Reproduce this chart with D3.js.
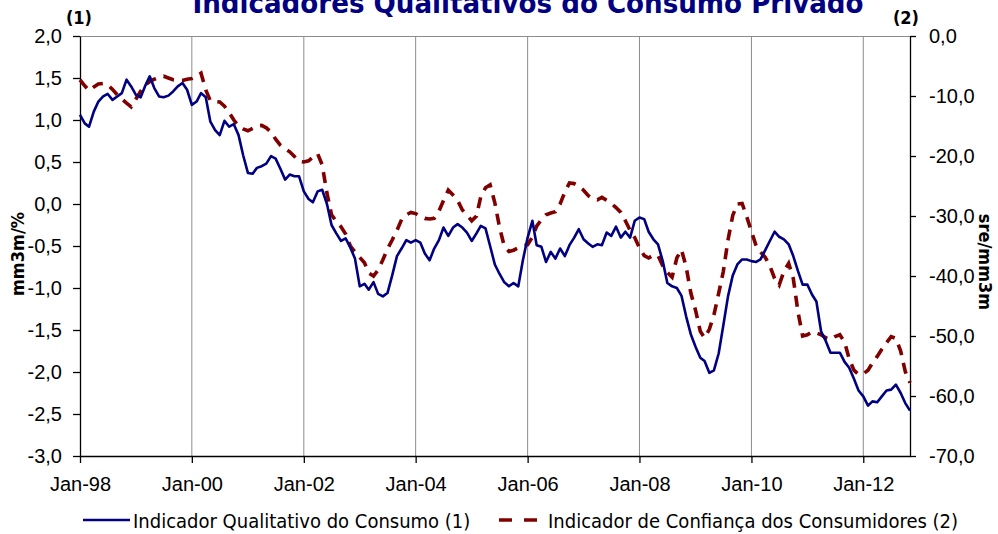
<!DOCTYPE html>
<html>
<head>
<meta charset="utf-8">
<script src="https://cdn.jsdelivr.net/npm/d3@7"></script>
<style>
  body { margin: 0; background: #fff; }
  svg { display: block; font-family: "DejaVu Sans Condensed", "DejaVu Sans", sans-serif; }
</style>
</head>
<body>
<div id="chart"></div>
<script>
// monthly data, Jan-98 .. Nov-12
const startMonth = new Date(1998, 0, 1);

// Indicador Qualitativo do Consumo (1) - left axis, mm3m/%
const iqcValues = [
  1.06, 0.96, 0.92, 1.10, 1.22, 1.28, 1.31, 1.24, 1.28, 1.32, 1.48, 1.40,
  1.30, 1.27, 1.40, 1.52, 1.38, 1.28, 1.27, 1.29, 1.34, 1.40, 1.44, 1.36,
  1.18, 1.22, 1.32, 1.27, 0.98, 0.88, 0.82, 0.99, 0.92, 0.95, 0.82, 0.58,
  0.37, 0.36, 0.43, 0.45, 0.48, 0.57, 0.54, 0.42, 0.29, 0.35, 0.33, 0.33,
  0.15, 0.06, 0.02, 0.15, 0.17, 0.00, -0.25, -0.35, -0.44, -0.41, -0.52, -0.65,
  -0.98, -0.95, -1.02, -0.93, -1.07, -1.10, -1.06, -0.85, -0.62, -0.53, -0.43, -0.46,
  -0.43, -0.46, -0.59, -0.67, -0.53, -0.43, -0.28, -0.38, -0.28, -0.24, -0.28, -0.34,
  -0.44, -0.35, -0.26, -0.29, -0.50, -0.72, -0.83, -0.93, -0.98, -0.94, -0.98, -0.67,
  -0.40, -0.20, -0.49, -0.51, -0.69, -0.57, -0.65, -0.53, -0.62, -0.49, -0.40, -0.30,
  -0.42, -0.47, -0.51, -0.48, -0.49, -0.34, -0.38, -0.27, -0.40, -0.33, -0.40, -0.20,
  -0.16, -0.18, -0.33, -0.42, -0.48, -0.68, -0.94, -0.98, -1.00, -1.09, -1.34, -1.55,
  -1.70, -1.83, -1.87, -2.01, -1.98, -1.78, -1.45, -1.10, -0.85, -0.72, -0.66, -0.66,
  -0.68, -0.69, -0.66, -0.55, -0.44, -0.33, -0.39, -0.42, -0.48, -0.62, -0.80, -0.96,
  -0.96, -1.08, -1.16, -1.52, -1.63, -1.77, -1.77, -1.77, -1.88, -1.95, -2.08, -2.22,
  -2.29, -2.40, -2.35, -2.36, -2.29, -2.22, -2.21, -2.15, -2.25, -2.37, -2.46
];

// Indicador de Confiança dos Consumidores (2) - right axis, sre/mm3m
const iccValues = [
  -7.3, -8.3, -9.1, -8.5, -8.0, -7.9, -8.1, -8.9, -9.8, -10.5, -11.2, -11.8,
  -10.5, -9.2, -8.2, -7.6, -7.2, -6.9, -6.7, -7.0, -7.3, -7.4, -7.4, -7.2,
  -7.1, -6.7, -6.2, -9.0, -10.8, -10.9, -11.0, -11.7, -12.8, -14.0, -15.0, -15.5,
  -15.8, -15.4, -15.0, -14.9, -15.3, -16.0, -17.2, -18.2, -18.8, -19.3, -20.1, -20.9,
  -21.0, -20.8, -20.2, -19.6, -21.5, -26.2, -29.8, -30.9, -31.8, -33.0, -35.0, -36.0,
  -36.9, -37.8, -39.5, -40.0, -39.0, -37.3, -35.5, -34.0, -32.4, -30.6, -29.8, -29.4,
  -29.6, -30.1, -30.4, -30.5, -30.4, -29.2, -27.4, -25.7, -26.5, -27.4, -29.0, -29.8,
  -30.8, -30.0, -26.8, -25.3, -24.8, -27.8, -31.8, -35.0, -35.9, -35.7, -35.3, -35.0,
  -34.8, -33.5, -31.7, -30.6, -29.8, -29.5, -29.3, -28.0, -26.0, -24.5, -24.6, -25.0,
  -25.7, -26.6, -27.1, -27.3, -26.9, -27.4, -27.9, -28.6, -29.4, -30.8, -32.4, -33.6,
  -35.3, -36.6, -37.0, -36.5, -36.6, -38.3, -39.4, -40.2, -37.0, -35.6, -38.5, -42.8,
  -45.7, -49.2, -50.3, -48.9, -46.5, -42.9, -39.3, -34.0, -29.9, -28.0, -27.9, -30.1,
  -32.6, -35.0, -36.0, -36.9, -38.3, -40.4, -41.5, -39.2, -37.9, -40.4, -46.0, -50.0,
  -49.8, -49.3, -49.5, -49.8, -50.3, -50.6, -50.1, -49.8, -51.0, -53.8, -55.7, -56.4,
  -56.3, -55.7, -54.5, -53.4, -52.2, -51.1, -50.1, -50.4, -52.5, -55.9, -57.8
];

const xTickLabels = ["Jan-98", "Jan-00", "Jan-02", "Jan-04", "Jan-06", "Jan-08", "Jan-10", "Jan-12"];
const leftTicks = [2.0, 1.5, 1.0, 0.5, 0.0, -0.5, -1.0, -1.5, -2.0, -2.5, -3.0];
const rightTicks = [0, -10, -20, -30, -40, -50, -60, -70];
const seriesNames = ["Indicador Qualitativo do Consumo (1)", "Indicador de Confiança dos Consumidores (2)"];

const width = 998, height = 534;
const margin = { top: 36, right: 88, bottom: 78, left: 80 };

const svg = d3.select("#chart").append("svg")
  .attr("width", width)
  .attr("height", height);

const months = iqcValues.map((v, i) => d3.timeMonth.offset(startMonth, i));
const parseLabel = d3.timeParse("%b-%y");
const fmtLabel = d3.timeFormat("%b-%y");

const x = d3.scaleTime()
  .domain([months[0], months[months.length - 1]])
  .range([margin.left, width - margin.right]);
const yL = d3.scaleLinear().domain([-3, 2]).range([height - margin.bottom, margin.top]);
const yR = d3.scaleLinear().domain([-70, 0]).range([height - margin.bottom, margin.top]);

const pt = d3.formatLocale({ decimal: ",", thousands: ".", grouping: [3], currency: ["", ""], minus: "-" });
const fmt1 = pt.format(".1f");

const x0 = margin.left, x1 = width - margin.right;
const y0 = margin.top, y1 = height - margin.bottom;

// vertical gridlines
svg.append("g")
  .selectAll("line")
  .data(xTickLabels.slice(1).map(parseLabel))
  .join("line")
  .attr("x1", d => x(d)).attr("x2", d => x(d))
  .attr("y1", y0).attr("y2", y1)
  .attr("stroke", "#8c8c8c").attr("stroke-width", 1);

// top border
svg.append("line")
  .attr("x1", x0).attr("x2", x1).attr("y1", y0 + 0.5).attr("y2", y0 + 0.5)
  .attr("stroke", "#8c8c8c");

// axes
const axisStyle = g => {
  g.selectAll(".domain").attr("stroke", "#000").attr("stroke-width", 1.3);
  g.selectAll(".tick line").attr("stroke", "#000").attr("stroke-width", 1.3);
  g.selectAll("text").attr("fill", "#000").style("font-size", "20px");
};

svg.append("g")
  .attr("transform", `translate(0,${y1})`)
  .call(d3.axisBottom(x).tickValues(xTickLabels.map(parseLabel)).tickFormat(fmtLabel)
    .tickSizeInner(7).tickSizeOuter(0).tickPadding(14))
  .call(axisStyle);

svg.append("g")
  .attr("transform", `translate(${x0},0)`)
  .call(d3.axisLeft(yL).tickValues(leftTicks).tickFormat(fmt1)
    .tickSizeInner(7).tickSizeOuter(0).tickPadding(11))
  .call(axisStyle);

svg.append("g")
  .attr("transform", `translate(${x1},0)`)
  .call(d3.axisRight(yR).tickValues(rightTicks).tickFormat(fmt1)
    .tickSizeInner(6).tickSizeOuter(0).tickPadding(13))
  .call(axisStyle);

// lines
const lineL = d3.line().x((d, i) => x(months[i])).y(d => yL(d));
const lineR = d3.line().x((d, i) => x(months[i])).y(d => yR(d));

svg.append("path")
  .datum(iccValues)
  .attr("d", lineR)
  .attr("fill", "none")
  .attr("stroke", "#800000")
  .attr("stroke-width", 3.6)
  .attr("stroke-dasharray", "11,8");

svg.append("path")
  .datum(iqcValues)
  .attr("d", lineL)
  .attr("fill", "none")
  .attr("stroke", "#000080")
  .attr("stroke-width", 2.6)
  .attr("stroke-linejoin", "round");

// title (top of it runs off the page, as in the original)
svg.append("text")
  .attr("x", 528).attr("y", 13)
  .attr("text-anchor", "middle")
  .attr("fill", "#000080")
  .attr("textLength", 671).attr("lengthAdjust", "spacingAndGlyphs")
  .style("font-size", "28px").style("font-weight", "bold")
  .text("Indicadores Qualitativos do Consumo Privado");

svg.append("text").attr("x", 79).attr("y", 24).attr("text-anchor", "middle")
  .style("font-size", "18px").style("font-weight", "bold").text("(1)");
svg.append("text").attr("x", 906).attr("y", 24).attr("text-anchor", "middle")
  .style("font-size", "18px").style("font-weight", "bold").text("(2)");

// axis titles
svg.append("text")
  .attr("transform", `translate(24,${(y0 + y1) / 2 + 8}) rotate(-90)`)
  .attr("text-anchor", "middle")
  .style("font-size", "18px").style("font-weight", "bold")
  .text("mm3m/%");
svg.append("text")
  .attr("transform", `translate(979,${(y0 + y1) / 2 + 16}) rotate(90)`)
  .attr("text-anchor", "middle")
  .style("font-size", "18px").style("font-weight", "bold")
  .text("sre/mm3m");

// legend
const legend = svg.append("g").attr("transform", "translate(0,520)");
legend.append("line").attr("x1", 83).attr("x2", 130).attr("y1", 0).attr("y2", 0)
  .attr("stroke", "#000080").attr("stroke-width", 2.6);
legend.append("text").attr("x", 133).attr("y", 8).style("font-size", "20px").text(seriesNames[0]);
legend.append("line").attr("x1", 499).attr("x2", 537).attr("y1", 0).attr("y2", 0)
  .attr("stroke", "#800000").attr("stroke-width", 3.6).attr("stroke-dasharray", "13,12");
legend.append("text").attr("x", 548).attr("y", 8).style("font-size", "20px").text(seriesNames[1]);
</script>
</body>
</html>
